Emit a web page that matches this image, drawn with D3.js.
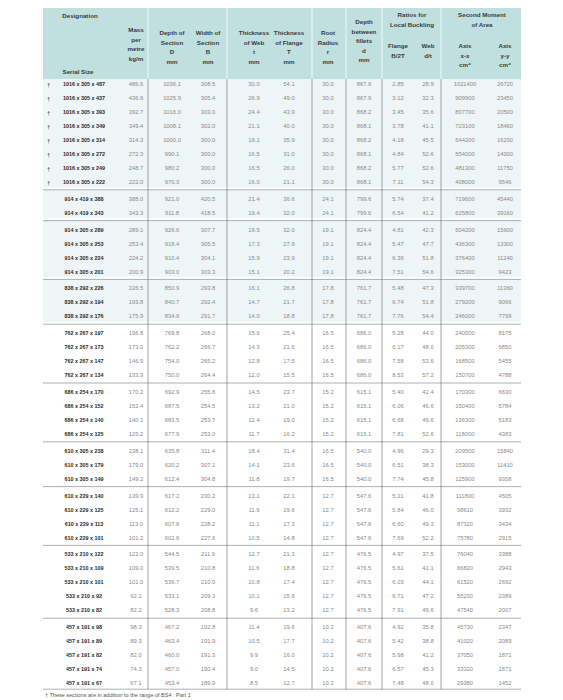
<!DOCTYPE html>
<html><head><meta charset="utf-8">
<script src="https://cdn.jsdelivr.net/npm/d3@7"></script>
<style>body{margin:0;background:#fff}svg{display:block;font-family:"Liberation Sans",Arial,sans-serif}</style>
</head><body><svg id="chart" width="563" height="700"></svg>
<script>
// universal beam dimensions table
const groupSizes = [8, 2, 4, 3, 4, 4, 3, 4, 5, 5];
const dagger = [true, true, true, true, true, true, true, true];
const designation = [
  "1016 x 305 x 487","1016 x 305 x 437","1016 x 305 x 393","1016 x 305 x 349","1016 x 305 x 314","1016 x 305 x 272","1016 x 305 x 249","1016 x 305 x 222",
  "914 x 419 x 388","914 x 419 x 343",
  "914 x 305 x 289","914 x 305 x 253","914 x 305 x 224","914 x 305 x 201",
  "838 x 292 x 226","838 x 292 x 194","838 x 292 x 176",
  "762 x 267 x 197","762 x 267 x 173","762 x 267 x 147","762 x 267 x 134",
  "686 x 254 x 170","686 x 254 x 152","686 x 254 x 140","686 x 254 x 125",
  "610 x 305 x 238","610 x 305 x 179","610 x 305 x 149",
  "610 x 229 x 140","610 x 229 x 125","610 x 229 x 113","610 x 229 x 101",
  "533 x 210 x 122","533 x 210 x 109","533 x 210 x 101","533 x 210 x 92","533 x 210 x 82",
  "457 x 191 x 98","457 x 191 x 89","457 x 191 x 82","457 x 191 x 74","457 x 191 x 67"];
const mass = ["486.6","436.9","392.7","349.4","314.3","272.3","248.7","222.0","388.0","343.3","289.1","253.4","224.2","200.9","226.5","193.8","175.9","196.8","173.0","146.9","133.9","170.2","152.4","140.1","125.2","238.1","179.0","149.2","139.9","125.1","113.0","101.2","122.0","109.0","101.0","92.1","82.2","98.3","89.3","82.0","74.3","67.1"];
const depthD = ["1036.1","1025.9","1016.0","1008.1","1000.0","990.1","980.2","970.3","921.0","911.8","926.6","918.4","910.4","903.0","850.9","840.7","834.9","769.8","762.2","754.0","750.0","692.9","687.5","683.5","677.9","635.8","620.2","612.4","617.2","612.2","607.6","602.6","544.5","539.5","536.7","533.1","528.3","467.2","463.4","460.0","457.0","453.4"];
const widthB = ["308.5","305.4","303.0","302.0","300.0","300.0","300.0","300.0","420.5","418.5","307.7","305.5","304.1","303.3","293.8","292.4","291.7","268.0","266.7","265.2","264.4","255.8","254.5","253.7","253.0","311.4","307.1","304.8","230.2","229.0","228.2","227.6","211.9","210.8","210.0","209.3","208.8","192.8","191.9","191.3","190.4","189.9"];
const webT = ["30.0","26.9","24.4","21.1","19.1","16.5","16.5","16.0","21.4","19.4","19.5","17.3","15.9","15.1","16.1","14.7","14.0","15.6","14.3","12.8","12.0","14.5","13.2","12.4","11.7","18.4","14.1","11.8","13.1","11.9","11.1","10.5","12.7","11.6","10.8","10.1","9.6","11.4","10.5","9.9","9.0","8.5"];
const flangeT = ["54.1","49.0","43.9","40.0","35.9","31.0","26.0","21.1","36.6","32.0","32.0","27.9","23.9","20.2","26.8","21.7","18.8","25.4","21.6","17.5","15.5","23.7","21.0","19.0","16.2","31.4","23.6","19.7","22.1","19.6","17.3","14.8","21.3","18.8","17.4","15.6","13.2","19.6","17.7","16.0","14.5","12.7"];
const rootR = ["30.0","30.0","30.0","30.0","30.0","30.0","30.0","30.0","24.1","24.1","19.1","19.1","19.1","19.1","17.8","17.8","17.8","16.5","16.5","16.5","16.5","15.2","15.2","15.2","15.2","16.5","16.5","16.5","12.7","12.7","12.7","12.7","12.7","12.7","12.7","12.7","12.7","10.2","10.2","10.2","10.2","10.2"];
const filletD = ["867.9","867.9","868.2","868.1","868.2","868.1","868.2","868.1","799.6","799.6","824.4","824.4","824.4","824.4","761.7","761.7","761.7","686.0","686.0","686.0","686.0","615.1","615.1","615.1","615.1","540.0","540.0","540.0","547.6","547.6","547.6","547.6","476.5","476.5","476.5","476.5","476.5","407.6","407.6","407.6","407.6","407.6"];
const flangeRatio = ["2.85","3.12","3.45","3.78","4.18","4.84","5.77","7.11","5.74","6.54","4.81","5.47","6.36","7.51","5.48","6.74","7.76","5.28","6.17","7.58","8.53","5.40","6.06","6.68","7.81","4.96","6.51","7.74","5.21","5.84","6.60","7.69","4.97","5.61","6.03","6.71","7.91","4.92","5.42","5.98","6.57","7.48"];
const webRatio = ["28.9","32.3","35.6","41.1","45.5","52.6","52.6","54.3","37.4","41.2","42.3","47.7","51.8","54.6","47.3","51.8","54.4","44.0","48.0","53.6","57.2","42.4","46.6","49.6","52.6","29.3","38.3","45.8","41.8","46.0","49.3","52.2","37.5","41.1","44.1","47.2","49.6","35.8","38.8","41.2","45.3","48.0"];
const ixx = ["1021400","909900","807700","723100","644200","554000","481300","408000","719600","625800","504200","436300","376400","325300","339700","279200","246000","240000","205300","168500","150700","170300","150400","136300","118000","209500","153000","125900","111800","98610","87320","75780","76040","66820","61520","55230","47540","45730","41020","37050","33320","29380"];
const iyy = ["26720","23450","20500","18460","16230","14000","11750","9546","45440","39160","15600","13300","11240","9423","11360","9066","7799","8175","6850","5455","4788","6630","5784","5183","4383","15840","11410","9308","4505","3932","3434","2915","3388","2943","2692","2389","2007","2347","2089","1871","1671","1452"];

const columns = ["mass","D","B","t","T","r","d","b2t","dt","ixx","iyy"];
const values = [mass, depthD, widthB, webT, flangeT, rootR, filletD, flangeRatio, webRatio, ixx, iyy];
const colHeaders = [
  ["Mass","per","metre","kg/m"],
  ["Depth of","Section","D","mm"],
  ["Width of","Section","B","mm"],
  ["Thickness","of Web","t","mm"],
  ["Thickness","of Flange","T","mm"],
  ["Root","Radius","r","mm"],
  ["Depth","between","fillets","d","mm"],
  ["Flange","B/2T"],
  ["Web","d/t"],
  ["Axis","x-x","cm\u2074"],
  ["Axis","y-y","cm\u2074"]];

const svg = d3.select("#chart");
const left = 43, right = 521, headTop = 8, headBottom = 79;
const rowH = 14, gap = 2.8;

const sx = d3.scaleOrdinal().domain(columns)
  .range([136, 172, 208, 254, 289, 328, 364, 398, 428, 465, 505]);
const dividers = [148, 227, 312, 346, 382, 441];

// row index -> group index
const groupOf = [];
groupSizes.forEach((n, g) => { for (let i = 0; i < n; i++) groupOf.push(g); });
const sy = d3.scaleLinear().domain([0, 1]).range([84, 84 + rowH]);
const rowY = i => sy(i) + groupOf[i] * gap;
const groupStart = [];
groupSizes.reduce((acc, n) => { groupStart.push(acc); return acc + n; }, 0);

// header band
svg.append("rect").attr("x", left).attr("y", headTop).attr("width", right - left)
  .attr("height", headBottom - headTop).attr("fill", "#bfe0df");

// shaded body groups
svg.append("g").selectAll("rect").data(groupStart.slice(0, 4)).join("rect")
  .attr("x", left).attr("width", right - left)
  .attr("y", (s, g) => g === 0 ? headBottom : rowY(s) - 9)
  .attr("height", (s, g) => rowY(s + groupSizes[g] - 1) + 5.5 - (g === 0 ? headBottom : rowY(s) - 9))
  .attr("fill", "#eef5f6");

const bottom = rowY(designation.length - 1) + 6;

// group separators
svg.append("g").selectAll("line").data(groupStart.slice(1)).join("line")
  .attr("x1", left).attr("x2", right)
  .attr("y1", s => rowY(s) - 9).attr("y2", s => rowY(s) - 9)
  .attr("stroke", "#8a8f90").attr("stroke-width", 0.7);
svg.append("line").attr("x1", left).attr("x2", right).attr("y1", bottom).attr("y2", bottom)
  .attr("stroke", "#8a8f90").attr("stroke-width", 0.7);

// vertical dividers
svg.append("g").selectAll("line").data(dividers).join("line")
  .attr("x1", d => d).attr("x2", d => d).attr("y1", headTop).attr("y2", headBottom)
  .attr("stroke", "#ffffff").attr("stroke-width", 0.8);
svg.append("g").selectAll("line").data(dividers).join("line")
  .attr("x1", d => d).attr("x2", d => d).attr("y1", headBottom).attr("y2", bottom)
  .attr("stroke", "#666").attr("stroke-width", 0.6);

// header text
const head = svg.append("g").attr("fill", "#3a3a3a").style("font-size", "6.2px")
  .style("font-weight", "bold").attr("text-anchor", "middle");
head.append("text").attr("x", 80).attr("y", 18).text("Designation");
head.append("text").attr("x", 78).attr("y", 74).text("Serial Size");
colHeaders.forEach((lines, c) => {
  const n = lines.length;
  const y0 = c === 0 ? 32 : (n <= 3 ? 48 : (n === 5 ? 24 : 35));
  lines.forEach((t, k) => {
    head.append("text").attr("x", sx(columns[c]))
      .attr("y", y0 + k * 9.5).text(t);
  });
});
head.append("text").attr("x", 412).attr("y", 17).text("Ratios for");
head.append("text").attr("x", 412).attr("y", 26.5).text("Local Buckling");
head.append("text").attr("x", 482).attr("y", 17).text("Second Moment");
head.append("text").attr("x", 482).attr("y", 26.5).text("of Area");

// body
const body = svg.append("g").style("font-size", "5.8px");
body.append("g").selectAll("text").data(designation).join("text")
  .attr("x", 84).attr("y", (d, i) => rowY(i) + 2).attr("text-anchor", "middle")
  .attr("fill", "#2a2a2a").style("font-weight", "bold").style("font-size", "5.4px").text(d => d);
body.append("g").selectAll("text").data(dagger).join("text")
  .attr("x", 47).attr("y", (d, i) => rowY(i) + 3).attr("fill", "#2a2a2a").text("\u2020");

columns.forEach((c, k) => {
  body.append("g").selectAll("text").data(values[k]).join("text")
    .attr("x", sx(c)).attr("y", (d, i) => rowY(i) + 2).attr("text-anchor", "middle")
    .attr("fill", "#8a8a8a").text(d => d);
});

svg.append("text").attr("x", 45).attr("y", 697).style("font-size", "5.5px").attr("fill", "#555")
  .text("\u2020 These sections are in addition to the range of BS4 : Part 1");
</script></body></html>
